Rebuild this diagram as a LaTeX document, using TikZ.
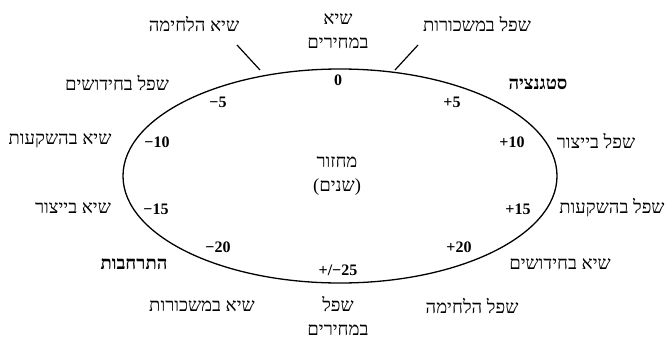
\documentclass[tikz,border=0pt]{standalone}
\usepackage{fontspec}
\setmainfont{Liberation Serif}
\newfontfamily\heb[Script=Hebrew]{Liberation Serif}
\TeXXeTstate=1
\tikzset{
  lbl/.style={font=\heb\fontsize{18.5}{24}\selectfont, align=center, inner sep=0pt},
  blbl/.style={lbl, font=\heb\fontsize{18.5}{24}\selectfont\bfseries},
  num/.style={font=\fontsize{16}{18}\selectfont\bfseries, inner sep=0pt},
  tick/.style={line width=1.2pt}
}
\newcommand{\R}[1]{\beginR #1\endR}
\begin{document}
\begin{tikzpicture}[x=1pt,y=-1pt]
\useasboundingbox (0,0) rectangle (671,340);
\draw[line width=1.3pt] (340,176) ellipse [x radius=217, y radius=107];
% top labels
\node[lbl] (shiaLechima) at (194,24) {\R{שיא הלחימה}};
\node[lbl] (shiaMechirim) at (338,31) {\R{שיא}\\\R{במחירים}};
\node[lbl] (shefelMaskorot) at (477,24) {\R{שפל במשכורות}};
\coordinate (t1a) at (237,45); \coordinate (t1b) at (260,70);
\coordinate (t2a) at (418,45); \coordinate (t2b) at (395,70);
\draw[tick] (t1a) -- (t1b);
\draw[tick] (t2a) -- (t2b);
% numbers
\node[num] (n0) at (338,80) {0};
\node[num] (nm5) at (218,102) {−5};
\node[num] (np5) at (452,102) {+5};
\node[num] (nm10) at (157,142) {−10};
\node[num] (np10) at (512,142) {+10};
\node[num] (nm15) at (156,209) {−15};
\node[num] (np15) at (518,209) {+15};
\node[num] (nm20) at (218,247) {−20};
\node[num] (np20) at (459,247) {+20};
\node[num] (n25) at (338,270) {+/−25};
% side labels
\node[lbl] (shefelChidushim) at (117,83) {\R{שפל בחידושים}};
\node[blbl] (stagnatsia) at (538,84) {\R{סטגנציה}};
\node[lbl] (shiaHashkaot) at (60,141) {\R{שיא בהשקעות}};
\node[lbl] (shefelYitsur) at (596,141) {\R{שפל בייצור}};
\node[lbl] (shiaYitsur) at (73,208) {\R{שיא בייצור}};
\node[lbl] (shefelHashkaot) at (612,208) {\R{שפל בהשקעות}};
\node[blbl] (hitrachavut) at (134,264) {\R{התרחבות}};
\node[lbl] (shiaChidushim) at (560,264) {\R{שיא בחידושים}};
% center
\node[lbl] (machzor) at (337,176) {\R{מחזור}\\\R{(שנים)}};
% bottom
\node[lbl] (shiaMaskorot) at (202,306) {\R{שיא במשכורות}};
\node[lbl] (shefelMechirim) at (338,316) {\R{שפל}\\\R{במחירים}};
\node[lbl] (shefelLechima) at (472,306) {\R{שפל הלחימה}};
\end{tikzpicture}
\end{document}
